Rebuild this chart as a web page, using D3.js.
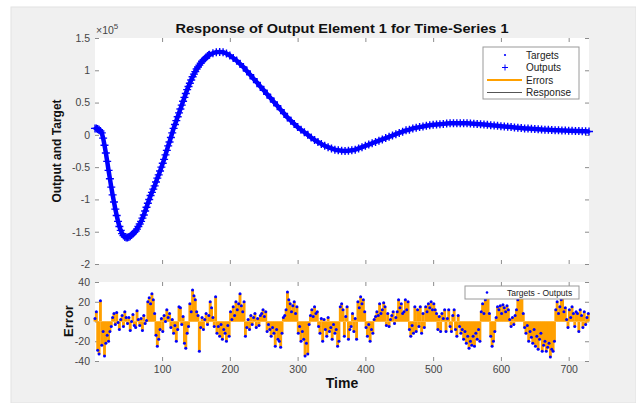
<!DOCTYPE html>
<html>
<head>
<meta charset="utf-8">
<script src="https://cdn.jsdelivr.net/npm/d3@7"></script>
<style>
  body { margin: 0; background: #fff; }
  #graf { width: 636px; height: 403px; }
  text { font-family: 'Liberation Sans', Arial, sans-serif; }
</style>
</head>
<body>
<div id="graf"></div>
<script>
// I. Datos
// pasos de tiempo de la respuesta: cada 2 en la parte empinada, cada 5 después
tiempoResp = d3.range(1, 170, 2).concat(d3.range(170, 731, 5))

// Targets / Outputs, en unidades de 10^5
objetivo = [
  0.10, 0.10, 0.09, 0.08, 0.06, 0.03, -0.05, -0.16, -0.28, -0.41,
  -0.55, -0.68, -0.81, -0.93, -1.04, -1.15, -1.25, -1.34, -1.42, -1.48,
  -1.53, -1.56, -1.58, -1.59, -1.59, -1.58, -1.57, -1.55, -1.53, -1.51,
  -1.49, -1.46, -1.42, -1.38, -1.34, -1.29, -1.24, -1.18, -1.12, -1.06,
  -1.00, -0.94, -0.89, -0.84, -0.79, -0.73, -0.67, -0.62, -0.56, -0.50,
  -0.44, -0.38, -0.31, -0.24, -0.17, -0.11, -0.04, 0.03, 0.10, 0.16,
  0.22, 0.28, 0.34, 0.40, 0.46,
  0.52, 0.58, 0.64, 0.70, 0.75, 0.80, 0.85, 0.90, 0.94, 0.98,
  1.02, 1.05, 1.08, 1.11, 1.14, 1.16, 1.18, 1.20, 1.22, 1.235,
  1.24, 1.265,
  1.28, 1.285, 1.28, 1.26, 1.23, 1.19, 1.15, 1.10, 1.05, 0.99,
  0.93, 0.87, 0.81, 0.75, 0.69, 0.63, 0.57, 0.51, 0.45, 0.39,
  0.33, 0.27, 0.22, 0.17, 0.12, 0.08, 0.04, 0.00, -0.04, -0.08,
  -0.11, -0.14, -0.17, -0.19, -0.21, -0.23, -0.24, -0.245, -0.25, -0.245,
  -0.24, -0.23, -0.21, -0.19, -0.17, -0.15, -0.13, -0.11, -0.09, -0.07,
  -0.05, -0.03, -0.01, 0.01, 0.03, 0.05, 0.07, 0.08, 0.10, 0.11,
  0.12, 0.13, 0.14, 0.15, 0.155, 0.16, 0.165, 0.17, 0.175, 0.178,
  0.18, 0.18, 0.18, 0.18, 0.178, 0.175, 0.172, 0.168, 0.164, 0.16,
  0.155, 0.15, 0.145, 0.14, 0.135, 0.13, 0.125, 0.12, 0.115, 0.11,
  0.105, 0.10, 0.097, 0.094, 0.09, 0.087, 0.084, 0.081, 0.078, 0.075,
  0.073, 0.07, 0.068, 0.066, 0.064, 0.062, 0.06, 0.058, 0.056, 0.054,
  0.052
]

// errores (Targets - Outputs), cada 2 pasos
tiempoErr = d3.range(1, 730, 2)
errores = [
  3, 10, -29, -33, 21, -24, -10, -35, -22, -14,
  -20, -10, -5, 4, 8, -3, 9, -1, -8, 2,
  6, -5, 10, 4, -2, 4, -9, 0, 7, -4,
  -6, 11, 2, -4, 3, -9, 6, -2, 1, 20,
  24, 18, 28, 22, 8, -14, -25, -18, -8, 3,
  -10, 6, 0, 12, 4, 8, -6, 2, -12, -4,
  -20, -8, 15, 14, -3, 5, -22, -27, -12, -5,
  18, 10, 32, 26, 22, 10, 6, -30, -6, 4,
  -8, 2, 8, -3, 6, 20, 14, 4, -5, 25,
  -12, -5, -15, -3, -18, -8, -12, -20, -4, -15,
  10, 2, 15, 6, 20, 12, 18, 28, 16, 10,
  20, -15, -6, 2, -8, 6, -3, 4, 8, -6,
  3, -4, 6, 8, 12, 5, 10, -10, -3, -8,
  -15, -6, -12, -25, -8, -18, -20, -26, -12, 4,
  6, 12, 30, 22, 18, 10, 16, 20, 8, 15,
  -12, -5, -20, -10, -18, -35, -22, -33, -3, 6,
  12, 5, 15, 8, 10, -5, -12, 3, -20, 2,
  -8, -15, 4, -10, -6, -18, -3, -12, -8, -25,
  -20, 15, 18, 12, -15, 5, 15, -18, -8, -5,
  8, -10, 3, -18, 20, 14, 25, 18, 22, 10,
  -6, -15, -3, -20, -8, -12, 2, 5, 10, 6,
  18, 8, 12, 19, 15, -4, 8, -5, 2, 6,
  10, -2, 4, 10, 22, 14, 18, 8, 10, 22,
  12, 20, -8, -15, -4, -12, 15, -10, 12, -5,
  15, -12, 8, -6, 15, 10, 18, 14, 20, 12,
  18, 12, 8, -8, 5, -10, 8, 3, 12, -10,
  3, 12, -5, -10, 6, 12, -8, -15, 6, -5,
  -12, -8, -18, -10, -22, -15, -27, -20, -24, -15,
  -25, -12, -18, -8, -20, 10, 18, 8, 22, 30,
  25, 8, -15, -25, -20, -10, 4, 15, 12, 16,
  8, 17, 14, 10, 16, 12, 2, -5, 4, -3,
  6, 12, 22, 30, 25, 28, 8, -6, -12, -4,
  -20, -10, -16, -22, -8, -25, -15, -28, -18, -12,
  -30, -24, -20, -30, -26, -22, -36, -28, -30, -20,
  12, 20, 8, 15, 22, 25, 10, 14, 2, -6,
  12, 4, 15, 8, -5, 10, 8, -10, 12, 6,
  -6, 10, -3, 4, 8
]

ticksX   = [100, 200, 300, 400, 500, 600, 700]
ticksY   = [-2, -1.5, -1, -0.5, 0, 0.5, 1, 1.5]
ticksErr = [-40, -20, 0, 20, 40]
leyenda  = ['Targets', 'Outputs', 'Errors', 'Response']

// II. Configuración
ancho_total = 636
alto_total = 403

azul = '#0000ff'
naranja = '#ffa000'
gris = '#8c8c8c'

svg = d3.select('#graf').append('svg')
        .attr('width', ancho_total)
        .attr('height', alto_total)

svg.append('rect')
   .attr('x', 11).attr('y', 7)
   .attr('width', ancho_total - 11).attr('height', alto_total - 7)
   .attr('fill', '#f0f0f0')
   .attr('stroke', '#e2e2e2')

x = d3.scaleLinear().domain([1, 730]).range([95, 589])
y = d3.scaleLinear().domain([-2, 1.5]).range([264, 38])
yErr = d3.scaleLinear().domain([-40, 40]).range([361, 282])

// dibuja caja, ticks interiores y etiquetas de un panel
function panel(escY, valoresY, conX) {
  const [abajo, arriba] = escY.range()
  const g = svg.append('g')

  g.append('rect')
   .attr('x', 95).attr('y', arriba)
   .attr('width', 589 - 95).attr('height', abajo - arriba)
   .attr('fill', '#fff')

  const estilo = sel => {
    sel.select('.domain').remove()
    sel.selectAll('line').attr('stroke', gris)
    sel.selectAll('text')
       .attr('fill', '#454545')
       .style('font-size', '10.5px')
       .style('font-family', "'Liberation Sans', Arial, sans-serif")
  }

  g.append('g').attr('transform', 'translate(95,0)')
   .call(d3.axisLeft(escY).tickValues(valoresY).tickSize(-4).tickPadding(5)
           .tickFormat(d => String(d)))
   .call(estilo)
  g.append('g').attr('transform', 'translate(589,0)')
   .call(d3.axisRight(escY).tickValues(valoresY).tickSize(-4).tickFormat(''))
   .call(estilo)
  g.append('g').attr('transform', `translate(0,${abajo})`)
   .call(d3.axisBottom(x).tickValues(ticksX).tickSize(-4).tickPadding(5)
           .tickFormat(conX ? d => String(d) : ''))
   .call(estilo)
  g.append('g').attr('transform', `translate(0,${arriba})`)
   .call(d3.axisTop(x).tickValues(ticksX).tickSize(-4).tickFormat(''))
   .call(estilo)

  return g
}

// III. Panel superior: respuesta
panelResp = panel(y, ticksY, false)

datosResp = tiempoResp.map((t, i) => ({ t: t, v: objetivo[i] }))
linea = d3.line().x(d => x(d.t)).y(d => y(d.v))

svg.append('path')
   .datum(datosResp)
   .attr('fill', 'none')
   .attr('stroke', '#000')
   .attr('stroke-width', 0.6)
   .attr('d', linea)

// banda de marcadores superpuestos (un marcador por paso en el original)
svg.append('path')
   .datum(datosResp)
   .attr('fill', 'none')
   .attr('stroke', azul)
   .attr('stroke-width', 4.5)
   .attr('stroke-linejoin', 'round')
   .attr('d', linea)

svg.append('g').selectAll('path')
   .data(datosResp)
   .join('path')
     .attr('d', d => `M${x(d.t) - 4},${y(d.v)}h8M${x(d.t)},${y(d.v) - 4}v8`)
     .attr('stroke', azul)
     .attr('stroke-width', 1.4)

svg.append('g').selectAll('circle')
   .data(datosResp)
   .join('circle')
     .attr('cx', d => x(d.t))
     .attr('cy', d => y(d.v))
     .attr('r', 1.6)
     .attr('fill', azul)

svg.append('text')
   .attr('x', 342).attr('y', 33)
   .attr('text-anchor', 'middle')
   .attr('textLength', 333)
   .attr('lengthAdjust', 'spacingAndGlyphs')
   .style('font-size', '13px').style('font-weight', 'bold')
   .attr('fill', '#111')
   .text('Response of Output Element 1 for Time-Series 1')

exp = svg.append('text')
   .attr('x', 96).attr('y', 34)
   .attr('fill', '#454545')
   .style('font-size', '10.5px')
exp.append('tspan').text('×10')
exp.append('tspan').attr('dy', -5).style('font-size', '8px').text('5')

svg.append('text')
   .attr('transform', 'translate(61,151) rotate(-90)')
   .attr('text-anchor', 'middle')
   .style('font-size', '12px').style('font-weight', 'bold')
   .attr('fill', '#111')
   .text('Output and Target')

// leyenda superior
ley = svg.append('g').attr('transform', 'translate(483,47)')
ley.append('rect')
   .attr('width', 96).attr('height', 52)
   .attr('fill', '#fff').attr('stroke', '#9a9a9a')
leyenda.forEach((nombre, i) => {
  const fy = 8 + i * 12.5
  if (i === 0) {
    ley.append('circle').attr('cx', 22).attr('cy', fy).attr('r', 1.1).attr('fill', azul)
  } else if (i === 1) {
    ley.append('path').attr('d', `M19,${fy}h6M22,${fy - 3}v6`).attr('stroke', azul)
  } else {
    ley.append('line')
       .attr('x1', 4).attr('x2', 39).attr('y1', fy).attr('y2', fy)
       .attr('stroke', i === 2 ? naranja : '#555')
       .attr('stroke-width', i === 2 ? 2 : 1)
  }
  ley.append('text')
     .attr('x', 43).attr('y', fy + 3.5)
     .style('font-size', '10px')
     .attr('fill', '#222')
     .text(nombre)
})

// IV. Panel inferior: errores
panelErr = panel(yErr, ticksErr, true)

datosErr = tiempoErr.map((t, i) => ({ t: t, e: errores[i] }))

svg.append('g').selectAll('line')
   .data(datosErr)
   .join('line')
     .attr('x1', d => x(d.t)).attr('x2', d => x(d.t))
     .attr('y1', yErr(0)).attr('y2', d => yErr(d.e))
     .attr('stroke', naranja)
     .attr('stroke-width', 2.9)

svg.append('g').selectAll('circle')
   .data(datosErr)
   .join('circle')
     .attr('cx', d => x(d.t))
     .attr('cy', d => yErr(d.e))
     .attr('r', 1.5)
     .attr('fill', azul)

svg.append('text')
   .attr('transform', 'translate(73,321) rotate(-90)')
   .attr('text-anchor', 'middle')
   .style('font-size', '13px').style('font-weight', 'bold')
   .attr('fill', '#111')
   .text('Error')

svg.append('text')
   .attr('x', 342).attr('y', 388)
   .attr('text-anchor', 'middle')
   .style('font-size', '14px').style('font-weight', 'bold')
   .attr('fill', '#111')
   .text('Time')

leyErr = svg.append('g').attr('transform', 'translate(465,286)')
leyErr.append('rect')
   .attr('width', 114).attr('height', 13)
   .attr('fill', '#fff').attr('stroke', '#9a9a9a')
leyErr.append('circle').attr('cx', 22).attr('cy', 6.5).attr('r', 1.3).attr('fill', azul)
leyErr.append('text')
   .attr('x', 42).attr('y', 9.5)
   .style('font-size', '8.5px')
   .attr('fill', '#222')
   .text('Targets - Outputs')
</script>
</body>
</html>
